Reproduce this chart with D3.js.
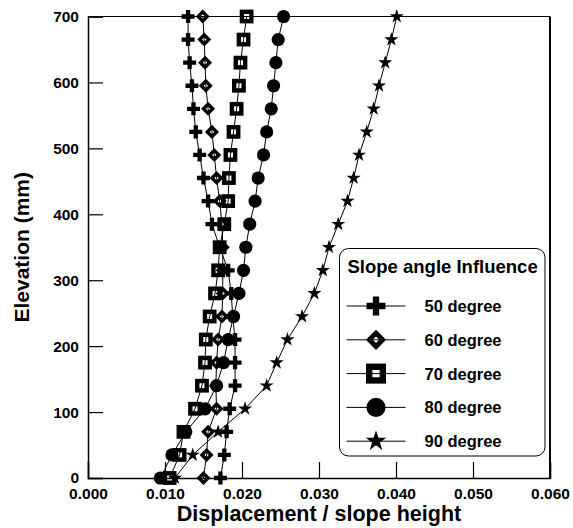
<!DOCTYPE html>
<html lang="en">
  <head>
    <meta charset="utf-8">
    <title>Slope angle Influence</title>
    <style>
      body { margin: 0; background: #fff; }
      svg text { font-family: "Liberation Sans", Arial, sans-serif; font-weight: bold; fill: #000; }
      .series path.link { fill: none; stroke: #000; stroke-width: 1px; }
    </style>
  </head>
  <body>

<script src="https://d3js.org/d3.v7.min.js"></script>

<script>

// ************** Data *************************************

var elevation = [0, 35, 70, 105, 140, 175, 210, 245, 280, 315, 350, 385, 420, 455, 490, 525, 560, 595, 630, 665, 700];

var deg50 = [0.0172, 0.0177, 0.0180, 0.0184, 0.0191, 0.0191, 0.0191, 0.0188, 0.0186, 0.0182, 0.0171,
             0.0161, 0.0156, 0.0150, 0.0145, 0.0140, 0.0137, 0.0135, 0.0132, 0.0130, 0.0130];
var deg60 = [0.0150, 0.0154, 0.0156, 0.0167, 0.0166, 0.0167, 0.0169, 0.0174, 0.0175, 0.0175, 0.0175,
             0.0174, 0.0171, 0.0167, 0.0164, 0.0161, 0.0156, 0.0153, 0.0152, 0.0151, 0.0149];
var deg70 = [0.0106, 0.0119, 0.0124, 0.0139, 0.0148, 0.0152, 0.0153, 0.0158, 0.0165, 0.0169, 0.0171,
             0.0177, 0.0182, 0.0183, 0.0185, 0.0189, 0.0193, 0.0196, 0.0198, 0.0202, 0.0206];
var deg80 = [0.0094, 0.0109, 0.0127, 0.0152, 0.0167, 0.0176, 0.0182, 0.0189, 0.0196, 0.0202, 0.0205,
             0.0210, 0.0217, 0.0221, 0.0228, 0.0232, 0.0238, 0.0241, 0.0244, 0.0247, 0.0254];
var deg90 = [0.0113, 0.0136, 0.0169, 0.0204, 0.0232, 0.0245, 0.0259, 0.0278, 0.0294, 0.0305, 0.0313,
             0.0325, 0.0337, 0.0345, 0.0352, 0.0362, 0.0371, 0.0378, 0.0386, 0.0394, 0.0401];

var seriesNames = ["50 degree", "60 degree", "70 degree", "80 degree", "90 degree"];
var seriesValues = [deg50, deg60, deg70, deg80, deg90];
var markerKinds = ["plus", "diamond", "square", "circle", "star"];

var xTicks = [0, 0.01, 0.02, 0.03, 0.04, 0.05, 0.06];
var yTicks = [0, 100, 200, 300, 400, 500, 600, 700];

var legendTitle = "Slope angle Influence";
var xTitle = "Displacement / slope height";
var yTitle = "Elevation (mm)";

// ************** Layout *****************

var W = 573, H = 528;
var margin = {top: 16.5, right: 23, bottom: 50, left: 88},
    width = W - margin.left - margin.right,
    height = H - margin.top - margin.bottom;

var svg = d3.select("body").append("svg")
    .attr("width", W)
    .attr("height", H);

var g = svg.append("g")
    .attr("transform", "translate(" + margin.left + "," + margin.top + ")");

var x = d3.scaleLinear().domain([0, 0.06]).range([0, width]);
var y = d3.scaleLinear().domain([0, 700]).range([height, 0]);

// Frame: top and right edges
g.append("line").attr("x1", 0).attr("x2", width).attr("y1", 0).attr("y2", 0)
    .attr("stroke", "#000").attr("stroke-width", 1.2);
g.append("line").attr("x1", width).attr("x2", width).attr("y1", 0).attr("y2", height)
    .attr("stroke", "#000").attr("stroke-width", 2);

// Axes with inward ticks (major + minor)
var xAxis = g.append("g").attr("transform", "translate(0," + height + ")");
xAxis.call(d3.axisBottom(x).tickValues(d3.range(0.005, 0.06, 0.01)).tickSize(-8).tickFormat(""));
xAxis.call(d3.axisBottom(x).tickValues(xTicks).tickSize(-16).tickPadding(10).tickFormat(d3.format(".3f")));

var yAxis = g.append("g");
yAxis.call(d3.axisLeft(y).tickValues(d3.range(50, 700, 100)).tickSize(-8).tickFormat(""));
yAxis.call(d3.axisLeft(y).tickValues(yTicks).tickSize(-15).tickPadding(9).tickFormat(d3.format("d")));

svg.selectAll(".domain").attr("stroke-width", 1.5);
svg.selectAll(".tick line").attr("stroke-width", 1.2);
svg.selectAll(".tick text")
    .style("font-size", "15.5px")
    .style("font-family", "'Liberation Sans', Arial, sans-serif")
    .style("font-weight", "bold");

// Axis titles
svg.append("text")
    .attr("x", margin.left + width / 2)
    .attr("y", 521)
    .attr("text-anchor", "middle")
    .style("font-size", "21.5px")
    .text(xTitle);

svg.append("text")
    .attr("transform", "translate(29," + (margin.top + height / 2) + ") rotate(-90)")
    .attr("text-anchor", "middle")
    .style("font-size", "21px")
    .text(yTitle);

// ************** Markers *****************

// Draws one marker at the origin of sel; s scales it (1 in plot, ~1.45 in legend)
function drawMarker(sel, kind, s) {
    if (kind == "plus") {
        sel.append("path").attr("d", d3.symbol(d3.symbolCross, 94 * s * s)()).attr("fill", "#000");
    } else if (kind == "diamond") {
        var h = 4.6 * s;
        sel.append("path").attr("d", "M0," + (-h) + "L" + h + ",0L0," + h + "L" + (-h) + ",0Z")
            .attr("fill", "none").attr("stroke", "#000").attr("stroke-width", 3.4 * s);
    } else if (kind == "square") {
        var a = 4.7 * s;
        sel.append("rect").attr("x", -a).attr("y", -a).attr("width", 2 * a).attr("height", 2 * a)
            .attr("fill", "none").attr("stroke", "#000").attr("stroke-width", 4.4 * s);
    } else if (kind == "circle") {
        sel.append("circle").attr("r", 6.6 * s).attr("fill", "#000");
    } else {
        sel.append("path").attr("d", d3.symbol(d3.symbolStar, 62 * s * s)()).attr("fill", "#000");
    }
}

var line = d3.line()
    .x(function(d) { return x(d.v); })
    .y(function(d) { return y(d.e); });

seriesValues.forEach(function(vals, i) {
    var pts = vals.map(function(v, j) { return {v: v, e: elevation[j]}; });
    var sg = g.append("g").attr("class", "series");

    sg.append("g").selectAll("g.pt")
        .data(pts)
      .enter().append("g")
        .attr("class", "pt")
        .attr("transform", function(d) { return "translate(" + x(d.v) + "," + y(d.e) + ")"; })
        .each(function() { drawMarker(d3.select(this), markerKinds[i], 1); });

    sg.append("path")
        .attr("class", "link")
        .datum(pts)
        .attr("d", line);
});

// ************** Legend *****************

var lg = svg.append("g").attr("transform", "translate(339.5,248.5)");

lg.append("rect")
    .attr("width", 205.5).attr("height", 207.5)
    .attr("rx", 9).attr("ry", 9)
    .attr("fill", "#fff").attr("stroke", "#000").attr("stroke-width", 1);

lg.append("text")
    .attr("x", 8).attr("y", 24)
    .style("font-size", "18.5px")
    .text(legendTitle);

seriesNames.forEach(function(name, i) {
    var row = lg.append("g").attr("transform", "translate(0," + (57.5 + i * 33.8) + ")");
    row.append("line").attr("x1", 7).attr("x2", 66).attr("y1", 0).attr("y2", 0)
        .attr("stroke", "#000").attr("stroke-width", 1);
    drawMarker(row.append("g").attr("transform", "translate(36.5,0)"), markerKinds[i], 1.45);
    row.append("text")
        .attr("x", 85).attr("y", 6)
        .style("font-size", "16.5px")
        .text(name);
});

</script>

  </body>
</html>
